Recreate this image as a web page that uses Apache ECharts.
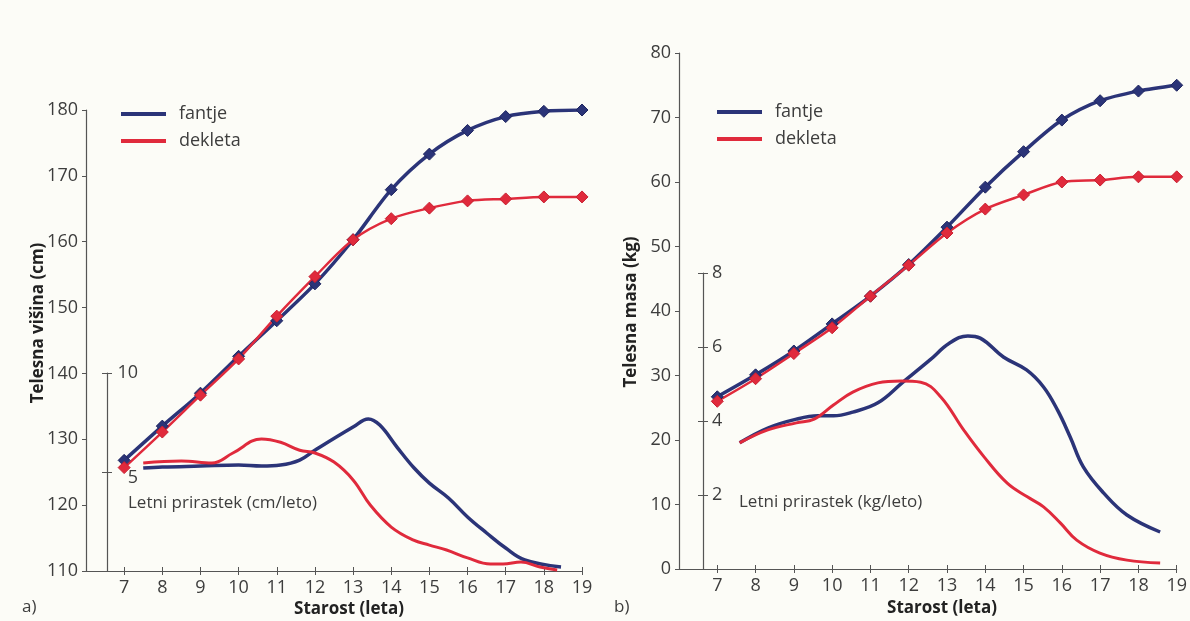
<!DOCTYPE html>
<html>
<head>
<meta charset="utf-8">
<script src="https://cdn.jsdelivr.net/npm/echarts@6/dist/echarts.min.js"></script>
<style>
  html, body { margin: 0; padding: 0; background: #fcfcf7; }
  #chart { width: 1190px; height: 621px; }
</style>
</head>
<body>
<div id="chart"></div>
<script>
// starost (leta)
const ages = [7, 8, 9, 10, 11, 12, 13, 14, 15, 16, 17, 18, 19];
const ageTicks = [7, 8, 9, 10, 11, 12, 13, 14, 15, 16, 17, 18, 19];

// telesna visina (cm)
const heightBoys = [126.8, 132.0, 137.0, 142.6, 148.0, 153.6, 160.3, 167.9, 173.3, 176.9, 179.0, 179.8, 180.0];
const heightGirls = [125.7, 131.1, 136.7, 142.2, 148.7, 154.7, 160.3, 163.5, 165.1, 166.2, 166.5, 166.8, 166.8];

// telesna masa (kg)
const massBoys = [26.7, 30.1, 33.8, 38.0, 42.3, 47.2, 53.0, 59.2, 64.7, 69.6, 72.6, 74.1, 75.0];
const massGirls = [26.0, 29.5, 33.4, 37.4, 42.3, 47.1, 52.1, 55.8, 58.0, 60.0, 60.3, 60.8, 60.8];

// letni prirastek visine (cm/leto)
const hRateAgesBoys = [7.5, 8, 9, 10, 10.6, 11.1, 11.6, 12, 13, 13.4, 13.7, 14.15, 14.6, 15, 15.5, 16, 16.5, 17, 17.5, 18.45];
const hRateBoys = [5.2, 5.25, 5.3, 5.35, 5.3, 5.35, 5.6, 6.1, 7.27, 7.68, 7.37, 6.26, 5.2, 4.44, 3.69, 2.73, 1.92, 1.16, 0.56, 0.2];
const hRateAgesGirls = [7.5, 8.5, 9.3, 9.85, 10.6, 11.1, 11.6, 12, 12.5, 13, 13.45, 14, 14.57, 15, 15.45, 16, 16.6, 16.93, 17.4, 17.9, 18.35];
const hRateGirls = [5.45, 5.55, 5.45, 5.96, 6.67, 6.5, 6.1, 5.96, 5.5, 4.6, 3.33, 2.22, 1.57, 1.31, 1.06, 0.66, 0.35, 0.35, 0.45, 0.2, 0.05];
const hRateTicks = [5, 10];

// letni prirastek mase (kg/leto)
const mRateAgesBoys = [7.57, 8.3, 9.04, 9.6, 10.0, 10.5, 11.15, 11.8, 12.5, 13.0, 13.48, 13.8, 14.4, 15.0, 15.44, 15.8, 16.13, 16.47, 17.0, 17.6, 18.46];
const mRateBoys = [3.41, 3.81, 4.05, 4.14, 4.14, 4.24, 4.49, 5.05, 5.65, 6.1, 6.3, 6.24, 5.73, 5.38, 4.92, 4.3, 3.57, 2.76, 2.05, 1.46, 1.0];
const mRateAgesGirls = [7.57, 8.3, 9.04, 9.5, 10.0, 10.5, 11.15, 11.75, 12.26, 12.78, 13.37, 13.9, 14.5, 15.02, 15.44, 15.88, 16.3, 16.9, 17.6, 18.46];
const mRateGirls = [3.41, 3.76, 3.95, 4.05, 4.43, 4.78, 5.03, 5.08, 5.05, 4.65, 3.76, 3.03, 2.32, 1.95, 1.68, 1.24, 0.78, 0.43, 0.24, 0.16];
const mRateTicks = [2, 4, 6, 8];

const BLUE = "#2b3478";
const RED = "#e02a3c";
const TXT = "#3d3d3d";
const AXIS = "#555";
const FONT = "Open Sans";

function pairs(xs, ys) {
  return xs.map((x, i) => [x, ys[i]]);
}

function mainX(grid, show) {
  return {
    type: "value", gridIndex: grid, position: "bottom", min: 6, max: 19, show: show,
    axisLine: { lineStyle: { color: AXIS, width: 1.2 } },
    axisTick: { length: 4, lineStyle: { color: AXIS }, customValues: ageTicks },
    axisLabel: { color: TXT, fontSize: 18, fontFamily: FONT, margin: 8, customValues: ageTicks },
    splitLine: { show: false }
  };
}

// second copy of the x axis, only for the upper half of the crossing ticks
function tickX(grid) {
  return {
    type: "value", gridIndex: grid, position: "bottom", min: 6, max: 19,
    axisLine: { show: false },
    axisTick: { inside: true, length: 4, lineStyle: { color: AXIS }, customValues: ageTicks },
    axisLabel: { show: false },
    splitLine: { show: false }
  };
}

function rateY(grid, max, ticks, off, label) {
  return {
    type: "value", gridIndex: grid, position: "left", min: 0, max: max, offset: off,
    axisLine: { show: true, lineStyle: { color: AXIS, width: 1.2 } },
    axisTick: { show: true, length: 5, lineStyle: { color: AXIS }, customValues: ticks },
    axisLabel: Object.assign({ inside: true, color: TXT, fontSize: 18, fontFamily: FONT, customValues: ticks }, label),
    splitLine: { show: false }
  };
}

function rateTickY(grid, max, ticks, off) {
  return {
    type: "value", gridIndex: grid, position: "left", min: 0, max: max, offset: off,
    axisLine: { show: false },
    axisTick: { show: true, inside: true, length: 5, lineStyle: { color: AXIS }, customValues: ticks },
    axisLabel: { show: false },
    splitLine: { show: false }
  };
}

function growth(name, color, w, x, y, data) {
  return {
    name: name, type: "line", xAxisIndex: x, yAxisIndex: y,
    data: data, smooth: 0.3, symbol: "diamond", symbolSize: 12,
    lineStyle: { color: color, width: w },
    itemStyle: { color: color, borderColor: color === BLUE ? "#1f2660" : "#c81f30", borderWidth: 1 },
    z: 3
  };
}

function rate(name, color, w, x, y, data) {
  return {
    name: name, type: "line", xAxisIndex: x, yAxisIndex: y,
    data: data, smooth: 0.4, showSymbol: false, symbol: "none",
    lineStyle: { color: color, width: w }, itemStyle: { color: color },
    z: 2
  };
}

const chart = echarts.init(document.getElementById("chart"));

chart.setOption({
  backgroundColor: "#fcfcf7",
  animation: false,
  legend: [
    {
      left: 116, top: 100, orient: "vertical", itemGap: 9,
      icon: "rect", itemWidth: 45, itemHeight: 4,
      textStyle: { color: TXT, fontSize: 18, fontFamily: FONT, padding: [0, 0, 0, 8] },
      data: ["fantje", "dekleta"]
    },
    {
      left: 712, top: 98, orient: "vertical", itemGap: 9,
      icon: "rect", itemWidth: 45, itemHeight: 4,
      textStyle: { color: TXT, fontSize: 18, fontFamily: FONT, padding: [0, 0, 0, 8] },
      data: ["fantje", "dekleta"]
    }
  ],
  grid: [
    { left: 86, top: 110, width: 496, height: 461 },
    { left: 86, top: 373, width: 496, height: 198 },
    { left: 679, top: 53, width: 502, height: 516 },
    { left: 679, top: 273, width: 502, height: 296 }
  ],
  xAxis: [mainX(0, true), mainX(1, false), mainX(2, true), mainX(3, false), tickX(0), tickX(2)],
  yAxis: [
    {
      type: "value", gridIndex: 0, position: "left", min: 110, max: 180, interval: 10,
      axisLine: { show: true, lineStyle: { color: AXIS, width: 1.2 } },
      axisTick: { show: true, length: 4, lineStyle: { color: AXIS } },
      axisLabel: { color: TXT, fontSize: 18, fontFamily: FONT, margin: 8 },
      splitLine: { show: false }
    },
    rateY(1, 10, hRateTicks, -21, {
      align: "right", margin: 31,
      formatter: v => (v === 5 ? "{low|5}" : "{n|" + v + "}"),
      rich: {
        low: { color: TXT, fontSize: 18, fontFamily: FONT, padding: [12, 0, 0, 0] },
        n: { color: TXT, fontSize: 18, fontFamily: FONT }
      }
    }),
    {
      type: "value", gridIndex: 2, position: "left", min: 0, max: 80, interval: 10,
      axisLine: { show: true, lineStyle: { color: AXIS, width: 1.2 } },
      axisTick: { show: true, length: 4, lineStyle: { color: AXIS } },
      axisLabel: { color: TXT, fontSize: 18, fontFamily: FONT, margin: 8 },
      splitLine: { show: false }
    },
    rateY(3, 8, mRateTicks, -24, { margin: 9 }),
    rateTickY(1, 10, hRateTicks, -21),
    rateTickY(3, 8, mRateTicks, -24)
  ],
  series: [
    rate("fantje", BLUE, 3.5, 1, 1, pairs(hRateAgesBoys, hRateBoys)),
    rate("dekleta", RED, 3, 1, 1, pairs(hRateAgesGirls, hRateGirls)),
    growth("fantje", BLUE, 3.5, 0, 0, pairs(ages, heightBoys)),
    growth("dekleta", RED, 2.5, 0, 0, pairs(ages, heightGirls)),
    rate("fantje", BLUE, 3.5, 3, 3, pairs(mRateAgesBoys, mRateBoys)),
    rate("dekleta", RED, 3, 3, 3, pairs(mRateAgesGirls, mRateGirls)),
    growth("fantje", BLUE, 3.5, 2, 2, pairs(ages, massBoys)),
    growth("dekleta", RED, 2.5, 2, 2, pairs(ages, massGirls))
  ],
  graphic: [
    { type: "text", x: 38, y: 323, rotation: Math.PI / 2,
      style: { text: "Telesna višina (cm)", fill: "#222", font: "bold 17px '" + FONT + "'", align: "center", verticalAlign: "middle" } },
    { type: "text", x: 631, y: 312, rotation: Math.PI / 2,
      style: { text: "Telesna masa (kg)", fill: "#222", font: "bold 17px '" + FONT + "'", align: "center", verticalAlign: "middle" } },
    { type: "text", x: 349, y: 609,
      style: { text: "Starost (leta)", fill: "#222", font: "bold 17px '" + FONT + "'", align: "center", verticalAlign: "middle" } },
    { type: "text", x: 942, y: 608,
      style: { text: "Starost (leta)", fill: "#222", font: "bold 17px '" + FONT + "'", align: "center", verticalAlign: "middle" } },
    { type: "text", x: 22, y: 607,
      style: { text: "a)", fill: TXT, font: "17px '" + FONT + "'", verticalAlign: "middle" } },
    { type: "text", x: 614, y: 607,
      style: { text: "b)", fill: TXT, font: "17px '" + FONT + "'", verticalAlign: "middle" } },
    { type: "text", x: 128, y: 503,
      style: { text: "Letni prirastek (cm/leto)", fill: TXT, font: "17px '" + FONT + "'", verticalAlign: "middle" } },
    { type: "text", x: 739, y: 502,
      style: { text: "Letni prirastek (kg/leto)", fill: TXT, font: "17px '" + FONT + "'", verticalAlign: "middle" } }
  ]
});
</script>
</body>
</html>
